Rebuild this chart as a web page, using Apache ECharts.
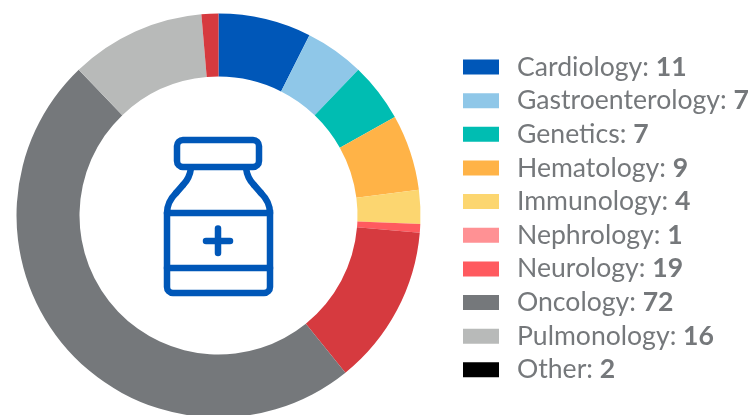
<!DOCTYPE html>
<html>
<head>
<meta charset="utf-8">
<style>
html, body { margin: 0; padding: 0; background: #fff; }
#chart { width: 755px; height: 415px; }
</style>
<script src="https://cdn.jsdelivr.net/npm/echarts@6/dist/echarts.min.js"></script>
</head>
<body>
<div id="chart"></div>
<script>
var categories = ['Cardiology', 'Gastroenterology', 'Genetics', 'Hematology', 'Immunology', 'Nephrology', 'Neurology', 'Oncology', 'Pulmonology', 'Other'];
var values = [11, 7, 7, 9, 4, 1, 19, 72, 16, 2];
var sliceColors = ['#0057B8', '#8FC7E8', '#00BDB2', '#FFB347', '#FCD670', '#FF5A5F', '#D63A3F', '#75787B', '#B8BAB9', '#D63A3F'];
var legendColors = ['#0057B8', '#8FC7E8', '#00BDB2', '#FFB347', '#FCD670', '#FF9194', '#FF5A5F', '#75787B', '#B8BAB9', '#000000'];

var iconBlue = '#0057B8';
var iconStyle = { stroke: iconBlue, lineWidth: 6.5, fill: 'none', lineCap: 'round' };

var myChart = echarts.init(document.getElementById('chart'));
var option = {
    animation: false,
    legend: {
        orient: 'vertical',
        left: 463,
        top: 53.5,
        padding: 0,
        itemWidth: 36,
        itemHeight: 15,
        itemGap: 6.65,
        icon: 'rect',
        selectedMode: false,
        data: categories.map(function (name, i) {
            return { name: name, itemStyle: { color: legendColors[i] } };
        }),
        formatter: function (name) {
            return '{a|' + name + ': }{b|' + values[categories.indexOf(name)] + '}';
        },
        textStyle: {
            padding: [0, 0, 0, 13],
            rich: {
                a: { fontFamily: 'Lato', fontSize: 26.6, color: '#75787B', lineHeight: 24 },
                b: { fontFamily: 'Lato', fontSize: 26.6, fontWeight: 'bold', color: '#75787B', lineHeight: 24 }
            }
        }
    },
    series: [{
        type: 'pie',
        center: [218.5, 215.5],
        radius: [139, 202],
        startAngle: 90,
        label: { show: false },
        labelLine: { show: false },
        silent: true,
        data: categories.map(function (name, i) {
            return { name: name, value: values[i], itemStyle: { color: sliceColors[i] } };
        })
    }],
    // bottle icon in the hole of the donut
    graphic: [
        { type: 'rect', shape: { x: 177, y: 140, width: 82, height: 27, r: 6 }, style: iconStyle },
        { type: 'rect', shape: { x: 167, y: 213, width: 103, height: 80, r: [0, 0, 6, 6] }, style: iconStyle },
        { type: 'line', shape: { x1: 167, y1: 268, x2: 270, y2: 268 }, style: iconStyle },
        { type: 'bezierCurve', shape: { x1: 191, y1: 168, cpx1: 190, cpy1: 176, cpx2: 187, cpy2: 181, x2: 183, y2: 185 }, style: iconStyle },
        { type: 'line', shape: { x1: 183, y1: 185, x2: 176, y2: 193 }, style: iconStyle },
        { type: 'bezierCurve', shape: { x1: 176, y1: 193, cpx1: 170, cpy1: 199, cpx2: 167, cpy2: 205, x2: 167, y2: 213 }, style: iconStyle },
        { type: 'bezierCurve', shape: { x1: 246, y1: 168, cpx1: 247, cpy1: 176, cpx2: 250, cpy2: 181, x2: 254, y2: 185 }, style: iconStyle },
        { type: 'line', shape: { x1: 254, y1: 185, x2: 261, y2: 193 }, style: iconStyle },
        { type: 'bezierCurve', shape: { x1: 261, y1: 193, cpx1: 267, cpy1: 199, cpx2: 270, cpy2: 205, x2: 270, y2: 213 }, style: iconStyle },
        { type: 'line', shape: { x1: 206, y1: 241, x2: 230, y2: 241 }, style: iconStyle },
        { type: 'line', shape: { x1: 218, y1: 228.5, x2: 218, y2: 253 }, style: iconStyle }
    ]
};
myChart.setOption(option);
</script>
</body>
</html>
